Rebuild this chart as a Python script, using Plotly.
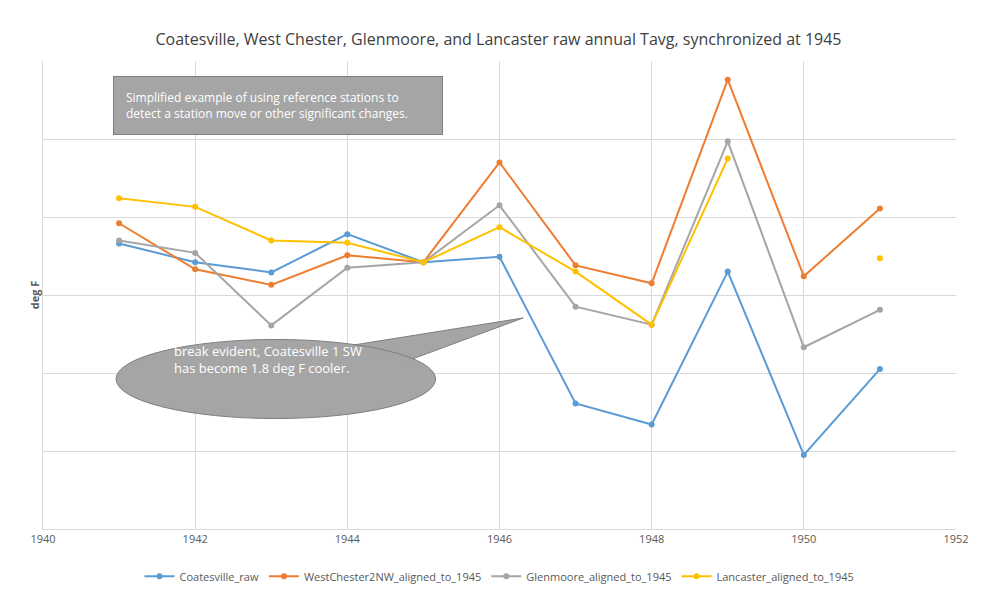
import plotly.graph_objects as go

years = [1941, 1942, 1943, 1944, 1945, 1946, 1947, 1948, 1949, 1950, 1951]
coatesville = [51.66, 51.42, 51.29, 51.78, 51.42, 51.49, 49.61, 49.34, 51.30, 48.95, 50.05]
westchester = [51.92, 51.33, 51.13, 51.51, 51.42, 52.70, 51.38, 51.15, 53.76, 51.24, 52.11]
glenmoore = [51.70, 51.54, 50.61, 51.35, 51.42, 52.15, 50.85, 50.62, 52.97, 50.33, 50.81]
lancaster = [52.24, 52.13, 51.70, 51.67, 51.42, 51.87, 51.30, 50.62, 52.75, None, 51.47]

series = [
    ("Coatesville_raw", coatesville, "#5b9bd5"),
    ("WestChester2NW_aligned_to_1945", westchester, "#ed7d31"),
    ("Glenmoore_aligned_to_1945", glenmoore, "#a5a5a5"),
    ("Lancaster_aligned_to_1945", lancaster, "#ffc000"),
]

fig = go.Figure()
for name, vals, col in series:
    fig.add_trace(go.Scatter(x=years, y=vals, name=name, mode="lines+markers",
                             line=dict(color=col, width=2), marker=dict(size=6, color=col)))

# callout bubble (ellipse + pointer)
fig.add_shape(type="path", xref="paper", yref="paper",
              path="M 0.33 0.39 L 0.526 0.451 L 0.40 0.36 Z",
              fillcolor="#a5a5a5", line=dict(color="#7f7f7f", width=1))
fig.add_shape(type="circle", xref="paper", yref="paper",
              x0=0.08, x1=0.43, y0=0.236, y1=0.405,
              fillcolor="#a5a5a5", line=dict(color="#7f7f7f", width=1))
fig.add_shape(type="path", xref="paper", yref="paper",
              path="M 0.33 0.388 L 0.40 0.362",
              line=dict(color="#a5a5a5", width=3))
fig.add_annotation(xref="paper", yref="paper", x=0.246, y=0.32, xanchor="center",
                   showarrow=False, align="left",
                   text="break evident, Coatesville 1 SW<br>has become 1.8 deg F cooler.",
                   font=dict(color="white", size=13, family="Open Sans"))
# info box
fig.add_annotation(xref="paper", yref="paper", x=0.077, y=0.968, xanchor="left", yanchor="top",
                   showarrow=False, align="left", bgcolor="#a5a5a5", bordercolor="#7f7f7f",
                   borderwidth=1, borderpad=12,
                   text="Simplified example of using reference stations to<br>detect a station move or other significant changes.       ",
                   font=dict(color="white", size=12, family="Open Sans"))

fig.update_layout(
    width=981, height=595, plot_bgcolor="white", paper_bgcolor="white",
    margin=dict(l=35, r=33, t=53, b=68),
    font=dict(family="Open Sans", color="#595959"),
    title=dict(text="Coatesville, West Chester, Glenmoore, and Lancaster raw annual Tavg, synchronized at 1945",
               x=0.5, y=0.957, xanchor="center", font=dict(size=16, color="#404040")),
    legend=dict(orientation="h", x=0.5, xanchor="center", y=-0.07, yanchor="top",
                font=dict(size=11)),
    xaxis=dict(range=[1940, 1952], dtick=2, showgrid=True, gridcolor="#d9d9d9",
               showline=True, linecolor="#d9d9d9", zeroline=False, tickfont=dict(size=11),
               automargin=False),
    yaxis=dict(range=[48, 54], dtick=1, showgrid=True, gridcolor="#d9d9d9",
               showticklabels=False, showline=True, linecolor="#d9d9d9", zeroline=False,
               automargin=False,
               title=dict(text="<b>deg F</b>", standoff=0, font=dict(size=11))),
)
fig.write_html("out.html")
